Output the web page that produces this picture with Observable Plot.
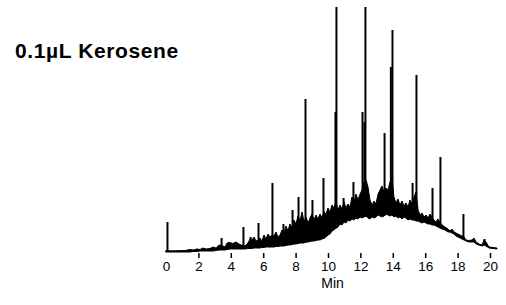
<!DOCTYPE html>
<html><head><meta charset="utf-8">
<script src="https://cdn.jsdelivr.net/npm/d3@7"></script>
<script src="https://cdn.jsdelivr.net/npm/@observablehq/plot@0.6"></script>
<style>
body{margin:0;background:#fff;}
#wrap{position:relative;width:506px;height:305px;}
#title{position:absolute;left:15px;top:40px;font:bold 21px "Liberation Sans",Arial,sans-serif;letter-spacing:0.6px;line-height:21px;color:#000;white-space:nowrap;}
#chart{position:absolute;left:0;top:0;}
</style></head><body>
<div id="wrap"><div id="chart"></div><div id="title">0.1µL Kerosene</div></div>
<script>
// Noisy trace band: retention time (min), lower and upper edge of the detector response
const bandTimes = [
  0.00,0.56,1.17,1.48,1.67,1.91,2.10,2.28,2.47,2.72,
  2.90,3.09,3.27,3.52,3.64,3.77,3.95,4.14,4.32,4.51,
  4.63,4.88,5.06,5.19,5.31,5.43,5.56,5.68,5.80,5.93,
  6.05,6.17,6.30,6.42,6.54,6.67,6.79,6.91,7.04,7.16,
  7.28,7.41,7.53,7.65,7.78,7.90,8.02,8.15,8.27,8.40,
  8.52,8.64,8.77,8.89,9.01,9.14,9.26,9.38,9.51,9.63,
  9.75,9.88,10.00,10.12,10.25,10.37,10.49,10.62,10.74,10.86,
  10.99,11.11,11.23,11.36,11.48,11.60,11.73,11.85,11.98,12.10,
  12.22,12.35,12.47,12.59,12.72,12.84,12.96,13.09,13.21,13.33,
  13.46,13.58,13.70,13.83,13.95,14.07,14.20,14.32,14.44,14.57,
  14.69,14.81,14.94,15.06,15.19,15.31,15.43,15.56,15.68,15.80,
  15.93,16.05,16.17,16.30,16.42,16.54,16.67,16.79,16.91,17.04,
  17.22,17.41,17.53,17.65,17.78,17.90,18.02,18.15,18.27,18.40,
  18.52,18.70,18.89,19.01,19.14,19.32,19.51,19.63,19.75,19.94,
  20.19,20.43];
const bandLow = [
  0,0,0,0,0.5,0.5,1,1,1,1,
  1,1.5,2,2,2,2.5,3,3,3,3,
  3,3,3.5,3.5,3.5,4,4,4,4,4.5,
  4.5,5,5,5,5,5,5.5,5.5,6,6,
  6,6.5,7,7,7.5,8,8,8.5,9,9,
  9,10,10,10.5,11,11,11.5,12,12,13,
  14,15,17,18,21,22,24,25,28,27,
  30,29,32,31,33,32,34,33,35,34,
  35,36,34,33,35,34,35,37,36,35,
  36,38,37,36,37,35,36,34,35,33,
  35,34,32,33,32,32,31,31,30,29,
  30,29,28,28,27,27,26,25,24,23,
  22,20,20,19,18,16,15,14,13,12,
  11,10,10,10,8,7,6,7,6,4,
  3.5,3];
const bandHigh = [
  1.2,1.2,1.5,2.5,2,3,2.5,4,3,3.5,
  5,4,7,6,5,9,9.5,8.5,10,8,
  7,6,9,13,12,15,11,12,14,11,
  17,13,18,15,17,16,20,15,17,22,
  19,26,21,28,24,32,28,36,31,40,
  30,35,29,34,38,32,37,33,38,34,
  40,38,44,40,47,44,50,42,47,43,
  50,44,48,45,55,50,58,52,58,62,
  70,72,65,52,47,51,48,58,62,66,
  60,64,62,70,75,55,49,53,47,51,
  46,49,45,52,48,55,60,42,37,39,
  35,37,34,38,35,32,30,33,30,27,
  25,23,21,23,20,19,18,17,16,15,
  12,11.5,12,14,10,8,7,12,10,5,
  4.5,4];
// Sharp peaks: retention time (min), foot and apex of each peak
const peakTimes = [0.06,3.40,4.75,5.19,5.68,6.54,7.22,7.78,8.15,8.58,9.01,9.69,10.43,10.49,10.93,11.54,12.10,12.22,12.28,13.46,13.85,13.95,15.19,15.43,16.42,16.91,18.33,19.63];
const peakFoot  = [0,2,3,3.5,4,5,6,7.5,8.5,9.5,11,13,23,24,30,33,35,35,35,36,37,37,33,32,28,24,13,7];
const peakApex  = [30,14,25,15,29,69,28,42,55,153,52,74,140,245,54,70,140,130,245,119,185,222,69,177,64,95,38,13];
const tickLabels = [0,2,4,6,8,10,12,14,16,18,20];

const band = bandTimes.map((t, i) => ({t, lo: bandLow[i], hi: bandHigh[i]}));
const peaks = peakTimes.map((t, i) => ({t, foot: peakFoot[i], apex: peakApex[i]}));

const chart = Plot.plot({
  width: 506, height: 305,
  marginLeft: 166, marginRight: 16, marginTop: 0, marginBottom: 52,
  x: {domain: [0, 20], label: null},
  y: {domain: [-1, 252], axis: null, label: null},
  style: {fontFamily: '"Liberation Sans", Arial, sans-serif', background: "white", color: "black"},
  marks: [
    Plot.areaY(band, {x: "t", y1: "lo", y2: "hi", fill: "black", stroke: "black", strokeWidth: 1, curve: "linear"}),
    Plot.ruleX(peaks, {x: "t", y1: "foot", y2: "apex", stroke: "black", strokeWidth: 2}),
    Plot.axisX({ticks: tickLabels, tickSize: 0, tickPadding: 8, fontSize: 13.5, label: null}),
    Plot.axisX({ticks: tickLabels.filter(d => d > 0), tickSize: 5, strokeWidth: 1.5, tickFormat: () => "", label: null}),
    Plot.text(["Min"], {frameAnchor: "bottom", dx: 4, dy: 34, fontSize: 14, fill: "black"})
  ]
});
document.getElementById("chart").appendChild(chart);
</script>
</body></html>
